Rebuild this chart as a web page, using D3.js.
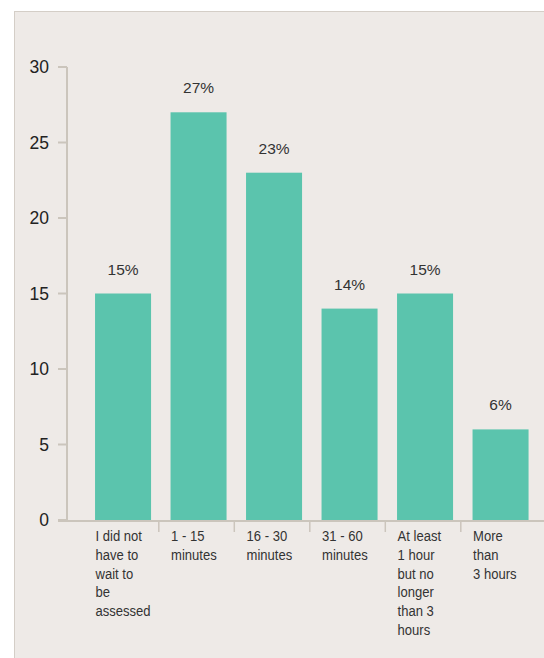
<!DOCTYPE html>
<html><head><meta charset="utf-8">
<script src="https://cdn.jsdelivr.net/npm/d3@7/dist/d3.min.js"></script>
<style>
html,body{margin:0;padding:0;background:#fff;}
svg{display:block;}
</style></head>
<body>
<svg id="chart" width="544" height="658"></svg>
<script>
const categories = [
  ["I did not","have to","wait to","be","assessed"],
  ["1 - 15","minutes"],
  ["16 - 30","minutes"],
  ["31 - 60","minutes"],
  ["At least","1 hour","but no","longer","than 3","hours"],
  ["More","than","3 hours"]
];
const values = [15, 27, 23, 14, 15, 6];
const valueLabels = ["15%","27%","23%","14%","15%","6%"];
const yTicks = [0, 5, 10, 15, 20, 25, 30];

const svg = d3.select("#chart");
const W = 544, H = 658;
// panel
svg.append("rect").attr("x",14.5).attr("y",11.5).attr("width",W).attr("height",H)
  .attr("fill","#EEEAE7").attr("stroke","#D4CEC7").attr("stroke-width",1);

const yAxisX = 67, baseY = 520, topY = 67;
const y = d3.scaleLinear().domain([0,30]).range([baseY, topY]);
const ids = categories.map((c,i)=>i);
const x = d3.scaleBand().domain(ids).range([85.3, 538.3]).paddingInner(0.258).paddingOuter(0.129);

const axisColor = "#CBC5BC";
// y axis
const gy = svg.append("g");
gy.append("line").attr("x1",yAxisX).attr("x2",yAxisX).attr("y1",y(30)).attr("y2",baseY)
  .attr("stroke",axisColor).attr("stroke-width",2);
gy.selectAll("line.t").data(yTicks).join("line").attr("class","t")
  .attr("x1",58).attr("x2",yAxisX).attr("y1",d=>y(d)).attr("y2",d=>y(d))
  .attr("stroke",axisColor).attr("stroke-width",2);
gy.selectAll("text").data(yTicks).join("text")
  .attr("x",49).attr("y",d=>y(d)).attr("dy","0.35em").attr("text-anchor","end")
  .attr("font-family","'Liberation Sans', Arial, sans-serif").attr("font-size",17.5)
  .attr("fill","#222").text(d=>d);

// x axis
svg.append("line").attr("x1",58).attr("x2",W).attr("y1",baseY+1).attr("y2",baseY+1)
  .attr("stroke",axisColor).attr("stroke-width",2);
const step = x.step();
svg.selectAll("line.xt").data(ids.slice(1)).join("line").attr("class","xt")
  .attr("x1",d=>x(d)-(step-x.bandwidth())/2-2).attr("x2",d=>x(d)-(step-x.bandwidth())/2-2)
  .attr("y1",baseY+1).attr("y2",532).attr("stroke",axisColor).attr("stroke-width",1.5);

// bars
svg.selectAll("rect.bar").data(values).join("rect").attr("class","bar")
  .attr("x",(d,i)=>x(i)).attr("y",d=>y(d)).attr("width",x.bandwidth())
  .attr("height",d=>baseY-y(d)).attr("fill","#5BC4AD");

// value labels
svg.selectAll("text.val").data(values).join("text").attr("class","val")
  .attr("x",(d,i)=>x(i)+x.bandwidth()/2).attr("y",d=>y(d)-19)
  .attr("text-anchor","middle")
  .attr("font-family","'Liberation Sans', Arial, sans-serif").attr("font-size",15.5)
  .attr("fill","#333").text((d,i)=>valueLabels[i]);

// category labels (condensed via horizontal scale)
const cl = svg.selectAll("text.cat").data(categories).join("text").attr("class","cat")
  .attr("transform",(d,i)=>`translate(${x(i)+0.5},541) scale(0.87,1)`)
  .attr("font-family","'Liberation Sans Narrow', 'Liberation Sans', Arial, sans-serif")
  .attr("font-size",15).attr("fill","#333");
cl.each(function(lines,i){
  d3.select(this).selectAll("tspan").data(lines).join("tspan")
    .attr("x",0).attr("dy",(l,j)=>j===0?0:18.8).text(l=>l);
});
</script>
</body></html>
